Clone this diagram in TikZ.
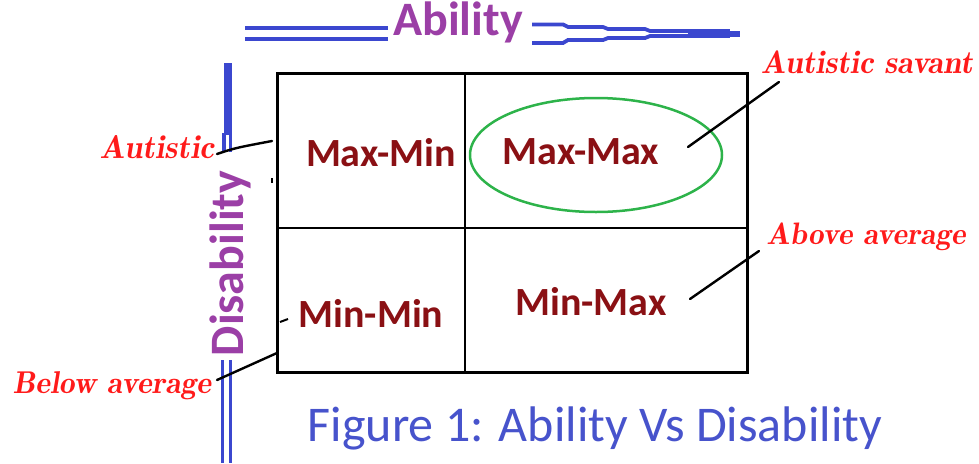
\documentclass[tikz,border=0pt]{standalone}
\usepackage{fontspec}
\setmainfont{Carlito}
\usetikzlibrary{shapes.geometric}

\definecolor{cellred}{HTML}{8A1014}
\definecolor{axispurple}{HTML}{9B3FA6}
\definecolor{axisblue}{HTML}{3B47CF}
\definecolor{capblue}{HTML}{4753CC}
\definecolor{notered}{HTML}{FF1A1A}
\definecolor{ringgreen}{HTML}{2DB34A}

\newcommand{\notesize}[1]{\usefont{TU}{lmr}{b}{it}\fontsize{#1}{#1}\selectfont}

\tikzset{
  outerframe/.style={line width=3pt, black},
  innerline/.style={line width=2.2pt, black},
  celltext/.style={font=\bfseries\fontsize{40}{40}\selectfont, text=cellred, inner sep=0pt},
  axistext/.style={font=\bfseries\fontsize{48}{48}\selectfont, text=axispurple, inner sep=0pt},
  note/.style={text=notered, inner sep=0pt},
  leader/.style={line width=2.4pt, black, line cap=round, line join=round},
  axisline/.style={line width=3.8pt, axisblue},
  penmark/.style={line width=2pt, black},
}

\begin{document}
\begin{tikzpicture}[x=1pt, y=-1pt]
  \useasboundingbox (0,0) rectangle (979,463);

  % 2x2 grid
  \draw[outerframe] (277,73) rectangle (747,372);
  \draw[innerline] (465,73) -- (465,372);
  \draw[innerline] (277,228) -- (747,228);

  % cell labels
  \node[celltext] (maxmin) at (381,153) {Max-Min};
  \node[celltext] (maxmax) at (581,152) {Max-Max};
  \node[celltext] (minmin) at (371,313) {Min-Min};
  \node[celltext] (minmax) at (591,302) {Min-Max};

  % ring round Max-Max
  \node[ellipse, draw=ringgreen, line width=2.5pt, minimum width=252pt,
        minimum height=114pt, inner sep=0pt] (ring) at (596,155) {};

  % horizontal axis
  \node[axistext, anchor=base] (ability) at (458,35) {Ability};
  \draw[axisline] (245,28) -- (388,28);
  \draw[axisline] (245,39) -- (388,39);
  \draw[axisline] (532,24.5) -- (563,24.5) -- (568,27) -- (603,27) -- (608,29)
                  -- (645,29) -- (650,31) -- (690,31);
  \draw[axisline] (532,43) -- (563,43) -- (568,40) -- (603,40) -- (608,38)
                  -- (645,38) -- (650,36) -- (690,36);
  \fill[axisblue] (688,29) rectangle (730,38);
  \fill[axisblue] (730,31) rectangle (740,37);

  % vertical axis
  \node[axistext, rotate=90, anchor=base] (disability) at (243,263.5) {Disability};
  \fill[axisblue] (223.5,63) rectangle (231.5,135);
  \draw[axisline] (224,133) -- (224,152);
  \draw[axisline] (230.5,133) -- (230.5,152);
  \draw[line width=3pt, axisblue] (222.5,360) -- (222.5,463);
  \draw[line width=3pt, axisblue] (230,360) -- (230,463);

  % notes
  \node[note, font=\notesize{33}] (autistic) at (157,147) {Autistic};
  \node[note, font=\notesize{32.5}] (savant) at (867,62) {Autistic savant};
  \node[note, font=\notesize{31}] (above) at (866,237) {Above average};
  \node[note, font=\notesize{31.5}] (below) at (112,386) {Below average};

  % leader ends
  \coordinate (autA) at (217,154);
  \coordinate (autB) at (272,141);
  \coordinate (savA) at (688,147);
  \coordinate (savB) at (779,82);
  \coordinate (abvA) at (690,299);
  \coordinate (abvB) at (759,251);
  \coordinate (belA) at (217,380);
  \coordinate (belB) at (277,353);

  \draw[leader] (autA) .. controls (235,148) .. (autB);
  \draw[leader] (savA) -- (savB);
  \draw[leader] (abvA) -- (abvB);
  \draw[leader] (belA) -- (belB);

  % small pen marks
  \coordinate (tickA) at (272,178);
  \coordinate (tickB) at (272,183);
  \coordinate (tickC) at (280,322);
  \coordinate (tickD) at (288,319);
  \draw[penmark] (tickA) -- (tickB);
  \draw[penmark] (tickC) -- (tickD);

  % caption
  \node[font=\fontsize{50}{50}\selectfont, text=capblue, anchor=base, inner sep=0pt]
       (caption) at (595,441) {Figure 1: Ability Vs Disability};
\end{tikzpicture}
\end{document}
